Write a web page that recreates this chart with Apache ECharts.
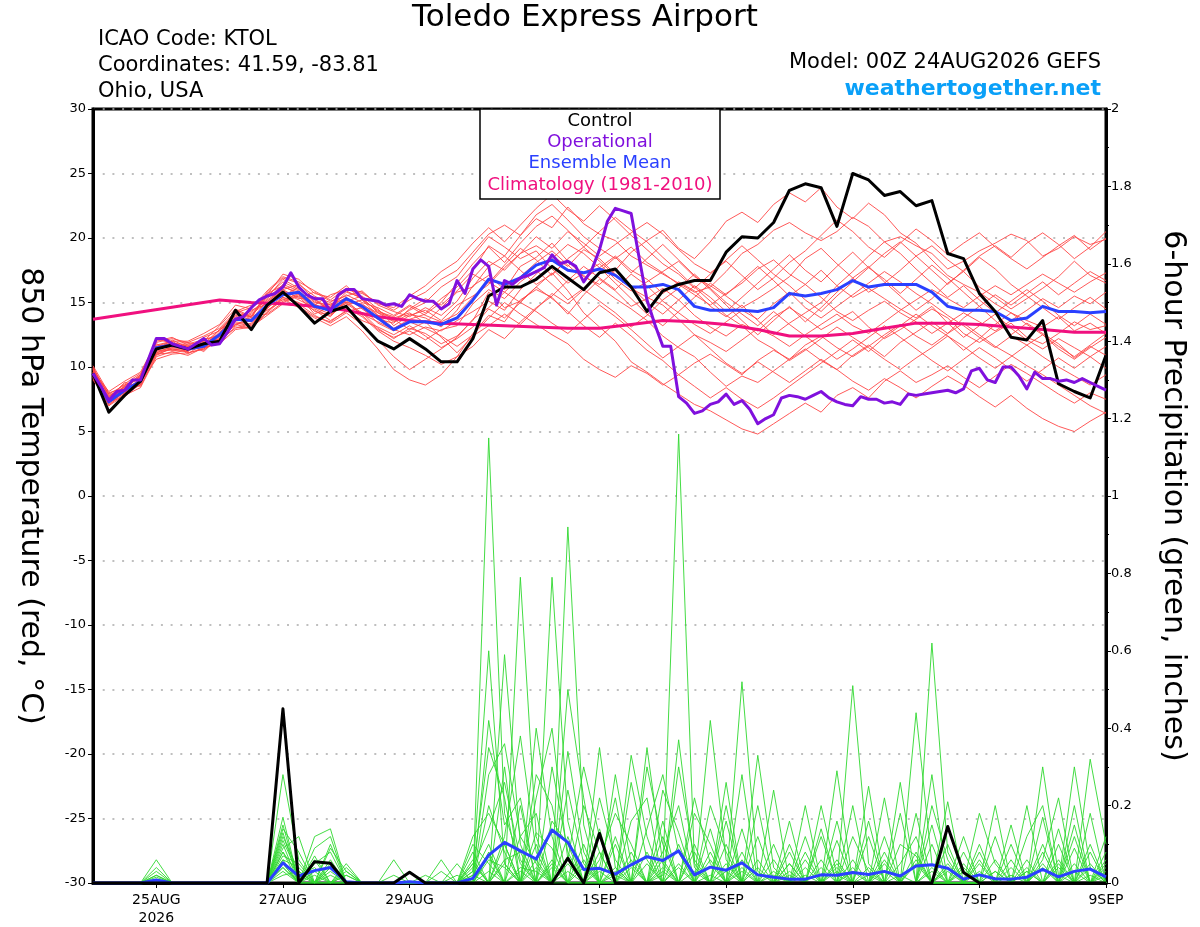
<!DOCTYPE html>
<html lang="en">
<head>
<meta charset="utf-8">
<title>Toledo Express Airport - GEFS plume</title>
<script src="https://cdn.jsdelivr.net/npm/echarts@6/dist/echarts.min.js"></script>
<style>
  html, body { margin: 0; padding: 0; background: #fff; }
  #plume { width: 1200px; height: 927px; }
</style>
</head>
<body>
<div id="plume"></div>
<script>
// x axis: forecast hour from 00Z 24AUG2026
var tickHours = [24, 72, 120, 192, 240, 288, 336, 384];
var tickLabels = ['25AUG\n2026', '27AUG', '29AUG', '1SEP', '3SEP', '5SEP', '7SEP', '9SEP'];

// 850 hPa temperature, 6-hourly (0..384h)
var controlTemp = [
  9.5, 6.5, 7.8, 8.9, 11.4, 11.7, 11.4, 11.8, 12.0, 14.4, 12.9, 14.8, 15.8,
  14.7, 13.4, 14.3, 14.7, 13.3, 12.0, 11.4, 12.2, 11.4, 10.4, 10.4, 12.2, 15.5,
  16.2, 16.2, 16.8, 17.8, 16.9, 16.0, 17.3, 17.6, 16.2, 14.3, 15.9, 16.4, 16.7,
  16.7, 18.9, 20.1, 20.0, 21.2, 23.7, 24.2, 23.9, 20.9, 25.0, 24.5, 23.3, 23.6,
  22.5, 22.9, 18.8, 18.4, 15.7, 14.3, 12.3, 12.1, 13.6, 8.7, 8.1, 7.6, 10.9
];
var meanTemp = [
  9.5, 7.3, 8.2, 8.9, 11.5, 11.7, 11.4, 11.6, 12.5, 13.7, 13.6, 14.8, 15.6,
  15.8, 14.7, 14.4, 15.3, 14.7, 13.8, 12.9, 13.5, 13.5, 13.3, 13.8, 15.2, 16.8,
  16.4, 16.9, 17.9, 18.3, 17.5, 17.3, 17.6, 17.1, 16.2, 16.2, 16.4, 16.0, 14.7,
  14.4, 14.4, 14.4, 14.3, 14.6, 15.7, 15.5, 15.7, 16.0, 16.7, 16.2, 16.4, 16.4,
  16.4, 15.8, 14.7, 14.4, 14.4, 14.3, 13.6, 13.8, 14.7, 14.3, 14.3, 14.2, 14.3
];
// operational run is 3-hourly
var operTemp = [
  9.5, 8.5, 7.4, 8.1, 8.2, 9.0, 9.0, 10.6, 12.2, 12.2, 11.8, 11.6, 11.4,
  11.8, 12.2, 11.7, 11.8, 12.7, 13.7, 13.9, 14.6, 15.2, 15.5, 15.7, 16.2, 17.3,
  16.2, 15.6, 15.3, 15.3, 14.3, 15.6, 16.0, 16.0, 15.3, 15.2, 15.1, 14.8, 14.9,
  14.7, 15.6, 15.3, 15.1, 15.1, 14.5, 14.9, 16.7, 15.7, 17.6, 18.3, 17.8, 14.8,
  16.7, 16.4, 16.9, 17.1, 17.4, 17.7, 18.7, 18.0, 18.2, 17.8, 16.6, 17.5, 19.1,
  21.3, 22.3, 22.1, 21.9, 18.5, 15.2, 13.3, 11.6, 11.6, 7.7, 7.2, 6.4, 6.6,
  7.1, 7.3, 7.9, 7.1, 7.4, 6.7, 5.6, 6.0, 6.3, 7.6, 7.8, 7.7, 7.5,
  7.8, 8.1, 7.6, 7.3, 7.1, 7.0, 7.7, 7.5, 7.5, 7.2, 7.3, 7.1, 7.9,
  7.8, 7.9, 8.0, 8.1, 8.2, 8.0, 8.3, 9.7, 9.9, 9.0, 8.8, 10.0, 10.0,
  9.3, 8.3, 9.6, 9.1, 9.1, 8.9, 9.0, 8.8, 9.1, 8.8, 8.5, 8.2
];
var climHours = [0, 48, 60, 72, 84, 96, 108, 120, 132, 144, 156, 168, 180, 192, 204,
  216, 228, 240, 252, 264, 276, 288, 300, 312, 324, 336, 348, 360, 372, 384];
var climTemp = [13.7, 15.2, 15.0, 14.9, 14.7, 14.4, 13.9, 13.6, 13.4, 13.3, 13.2, 13.1, 13.0, 13.0, 13.3,
  13.6, 13.5, 13.3, 12.9, 12.4, 12.4, 12.6, 13.0, 13.4, 13.4, 13.3, 13.1, 12.9, 12.7, 12.7];

// ensemble members, 6-hourly
var memberTemp = [
  [9.8,7.9,8.6,9.2,11.0,11.4,11.2,12.3,12.8,14.2,14.6,15.4,16.8,16.1,15.0,14.8,15.6,15.0,14.6,14.0,14.8,14.2,15.3,16.2,17.5,19.4,18.6,20.2,21.5,20.8,22.4,21.1,20.3,19.8,18.6,17.9,17.2,16.5,15.8,16.2,17.4,18.8,19.5,20.6,21.2,20.4,19.8,20.5,21.6,20.9,19.7,20.1,19.4,18.8,17.6,18.2,19.0,19.6,20.3,19.8,18.6,19.2,20.1,19.5,19.9],
  [9.2,7.0,7.8,8.4,10.8,11.2,10.9,11.5,12.0,13.1,13.0,14.2,15.3,14.6,13.8,13.2,13.9,12.8,11.4,9.8,9.0,8.6,9.4,10.8,12.6,14.0,13.5,15.2,16.0,15.4,14.1,15.6,16.8,15.9,14.7,15.3,16.1,15.2,14.0,13.1,12.4,13.3,12.8,13.9,14.6,13.8,12.9,13.6,14.3,13.1,12.2,12.9,13.7,14.5,13.8,12.6,11.9,12.7,13.4,12.3,11.8,12.6,13.5,12.9,13.2],
  [10.0,7.7,8.4,9.4,12.0,12.3,11.7,12.0,13.2,14.5,13.9,15.8,16.9,16.5,15.2,14.6,15.8,15.4,14.2,13.5,14.1,13.8,13.1,14.4,16.3,17.1,16.0,17.8,18.5,19.6,18.2,17.0,16.4,17.5,18.9,19.8,20.6,19.2,18.4,19.7,21.3,22.0,21.2,22.6,23.5,22.8,23.9,22.4,21.5,22.7,21.8,20.4,19.6,18.3,17.1,16.4,15.8,14.9,14.2,13.6,13.1,13.9,12.8,13.4,12.6],
  [9.4,7.2,8.0,8.6,11.6,11.8,11.6,11.3,12.2,13.3,13.6,14.4,15.1,15.6,14.3,14.0,15.0,14.2,13.0,12.2,13.0,12.6,11.8,12.4,13.6,15.8,14.6,15.1,16.2,17.3,15.9,14.2,13.1,12.0,10.4,9.6,8.7,7.9,7.1,6.6,5.9,5.2,4.8,5.6,6.4,7.2,6.5,7.8,8.4,7.6,8.9,9.7,8.8,9.4,10.1,9.2,8.4,9.3,10.2,9.5,8.7,7.9,7.2,8.0,7.5],
  [9.6,7.6,8.2,9.0,11.2,11.5,11.4,11.7,12.6,14.0,13.7,15.1,15.9,15.4,15.8,15.1,15.5,15.9,14.8,14.3,13.9,14.6,14.0,15.1,16.9,18.2,17.5,18.8,19.4,18.6,17.8,19.1,18.4,17.2,16.1,15.4,14.8,13.7,12.5,11.9,11.2,12.1,13.0,12.4,11.6,12.5,13.3,14.1,13.2,12.6,13.5,14.4,15.2,16.0,15.3,14.6,15.5,16.3,15.6,16.4,17.2,16.5,15.8,16.6,17.3],
  [9.7,8.1,8.9,9.6,11.9,12.2,11.9,12.4,13.0,14.3,14.8,15.6,17.2,16.8,15.7,15.4,16.3,15.2,14.0,13.6,14.4,15.0,16.2,17.0,18.6,20.1,19.3,18.4,19.0,17.6,16.5,17.3,18.0,16.8,15.9,16.6,17.4,18.2,17.0,16.3,15.5,14.6,15.3,16.1,17.0,18.4,19.2,18.0,16.9,15.8,16.5,17.5,18.6,19.4,18.3,17.4,16.2,15.4,14.5,15.3,16.1,17.0,18.2,17.1,16.5],
  [9.3,7.4,8.5,8.8,10.6,11.0,11.1,11.4,12.1,13.0,13.4,14.6,15.4,15.0,14.4,13.6,14.3,14.6,13.4,12.8,13.5,13.0,12.4,11.6,12.5,13.8,15.0,14.1,13.3,12.5,11.8,10.6,9.8,9.2,10.1,9.5,8.6,9.4,10.3,11.0,10.2,9.4,10.5,11.3,10.6,11.7,12.4,11.5,10.8,11.6,12.5,13.3,12.4,11.7,12.6,13.4,12.5,11.6,10.9,10.1,9.4,8.6,7.8,7.0,6.4],
  [9.9,7.8,8.1,9.1,11.5,11.9,11.0,11.9,12.4,13.6,14.1,15.0,16.2,15.8,14.8,15.6,16.0,15.7,15.0,14.4,15.2,15.8,16.8,17.5,18.9,20.3,21.0,20.2,21.8,22.6,21.4,20.1,19.2,18.4,19.3,18.1,17.3,16.4,15.6,14.8,15.7,16.5,17.6,18.3,17.2,16.4,15.4,14.3,13.6,14.4,15.1,14.2,13.5,12.6,13.4,14.2,13.5,12.8,13.6,14.4,15.3,14.6,15.5,14.9,15.8],
  [9.1,7.3,7.7,8.7,11.3,11.3,11.5,11.9,12.2,13.4,13.2,14.8,15.5,16.2,15.1,14.5,14.9,14.1,13.5,12.9,12.5,13.1,12.8,13.6,14.3,15.1,14.4,16.0,17.2,18.4,19.5,18.8,17.7,18.6,17.5,16.8,15.7,16.6,15.9,14.7,13.9,14.8,13.6,12.5,13.4,14.2,15.0,16.3,15.4,16.1,15.3,14.5,13.8,14.7,13.4,12.3,13.2,14.1,13.0,12.1,11.4,12.2,11.5,10.8,11.6],
  [9.5,7.5,8.3,9.3,11.7,12.0,11.3,11.6,12.7,13.8,13.5,14.5,15.8,15.2,14.6,14.9,15.3,14.8,14.2,13.8,14.2,13.4,14.6,15.8,16.2,17.8,18.6,17.5,16.4,17.2,18.3,17.1,16.2,15.3,14.5,13.6,12.4,11.5,10.8,9.6,8.5,9.3,8.8,9.7,10.6,11.4,10.5,9.8,10.9,11.7,10.8,11.9,12.7,13.5,12.6,13.8,14.7,13.6,12.5,13.4,12.6,11.8,10.7,11.6,10.9],
  [9.6,7.1,7.9,9.0,11.1,11.6,11.8,12.1,12.5,13.9,14.3,15.3,16.4,15.9,14.9,14.2,15.1,15.5,14.5,13.2,14.0,14.4,13.6,14.8,15.5,16.4,17.7,18.8,20.1,19.2,20.5,19.6,18.6,19.5,20.4,21.2,20.3,19.1,18.0,17.3,18.2,17.1,16.0,16.9,18.1,19.0,20.2,21.4,20.5,19.3,18.5,19.6,20.7,19.8,18.7,19.6,20.4,19.3,18.4,17.6,18.5,19.4,20.2,19.1,20.0],
  [9.4,7.7,8.7,9.5,11.4,11.7,11.6,11.8,12.9,14.1,13.9,15.5,16.6,16.0,15.3,14.3,14.6,13.9,12.8,12.0,11.5,10.9,10.2,10.8,11.6,12.9,12.2,13.5,14.6,15.5,16.7,17.8,16.9,16.0,17.2,16.3,15.1,14.2,13.3,12.6,13.5,14.4,13.7,14.9,15.8,14.6,13.8,14.7,15.6,16.5,17.4,16.6,15.7,14.9,14.0,13.2,12.3,11.5,12.4,11.7,10.8,10.0,9.3,8.6,9.4],
  [9.8,7.4,8.0,8.9,11.8,11.3,11.2,12.2,12.3,13.2,14.0,14.1,15.0,15.5,14.1,14.7,15.4,14.5,13.7,13.4,14.5,15.3,14.8,15.9,17.2,16.5,17.9,19.2,18.3,17.1,18.4,19.3,20.5,21.6,20.6,19.7,18.5,17.4,16.2,15.1,14.0,13.2,12.1,11.4,10.5,11.3,12.2,13.1,12.3,11.5,10.6,9.8,10.7,11.5,12.4,11.6,10.7,9.9,10.8,11.7,12.5,11.4,10.6,11.5,12.3],
  [9.3,7.6,8.8,8.5,10.9,11.5,11.7,11.2,12.4,13.5,13.3,14.7,15.2,15.7,14.5,13.9,15.2,14.0,12.9,12.3,12.8,12.1,12.9,13.2,14.9,16.0,15.3,16.6,17.5,16.4,15.2,16.1,17.4,18.5,17.3,18.4,19.5,18.3,17.1,16.0,14.8,13.6,12.5,13.6,14.7,13.5,14.6,15.8,16.9,17.8,16.6,15.5,14.4,15.3,16.5,17.4,18.5,17.6,16.4,15.5,14.6,13.7,14.6,15.4,14.5],
  [10.1,8.0,8.4,9.3,11.3,12.1,11.5,12.0,12.0,13.7,14.4,14.9,16.0,15.3,15.4,15.0,15.9,15.3,14.3,13.9,14.7,14.0,13.5,14.1,15.4,16.6,15.8,17.0,18.1,19.0,17.9,16.8,17.7,16.5,15.3,14.1,13.2,14.3,15.4,16.5,15.6,16.7,17.8,16.7,15.5,16.4,17.5,16.3,17.4,18.6,19.7,18.8,17.6,16.5,15.4,16.3,15.2,14.2,15.1,16.0,15.1,14.0,13.2,14.1,13.3],
  [9.0,7.2,8.1,8.8,11.0,11.1,11.3,11.5,11.8,12.9,13.1,14.0,14.9,14.7,13.9,13.5,14.4,13.6,13.1,12.5,13.2,12.4,11.5,12.2,13.1,14.5,13.8,15.0,14.3,13.4,12.6,13.7,14.8,13.9,12.9,11.8,10.7,11.6,12.5,11.4,10.3,9.5,10.4,9.6,8.8,9.7,10.6,9.8,8.9,8.2,9.1,8.4,7.6,8.5,9.3,8.6,7.7,6.9,7.8,6.8,6.0,5.4,5.0,5.8,6.5],
  [9.7,7.9,8.0,9.2,12.2,11.8,11.9,11.6,12.9,13.6,14.2,15.2,16.0,16.4,15.5,14.8,15.0,14.9,14.0,13.0,13.7,14.1,15.0,16.5,18.0,19.3,18.1,19.6,20.9,21.7,20.6,19.3,18.2,17.1,16.2,15.0,14.1,15.2,16.3,15.4,14.3,15.4,16.5,17.6,18.7,17.5,16.6,17.8,18.9,17.7,16.8,15.7,16.8,17.9,16.9,15.8,14.7,15.6,14.8,15.7,16.6,15.6,16.5,17.4,16.7],
  [9.5,7.3,8.6,9.1,11.4,11.9,11.1,11.4,12.6,14.4,13.8,15.7,16.3,15.6,14.6,14.1,14.8,15.2,14.4,13.7,12.9,13.5,12.3,11.1,12.4,13.2,14.1,13.3,14.5,15.7,14.9,16.0,15.1,14.2,13.1,14.0,15.2,16.1,17.2,16.1,15.0,14.1,13.2,14.3,13.3,12.4,11.5,10.6,11.4,12.3,13.2,12.3,11.4,10.5,9.7,10.6,11.5,10.7,9.8,8.9,9.8,10.7,9.9,10.8,9.9],
  [9.9,7.5,8.5,9.4,11.6,12.0,12.0,12.6,13.3,14.8,14.5,15.9,17.0,16.6,15.9,15.2,16.1,15.8,14.9,14.6,15.5,16.3,17.4,18.2,19.6,20.8,19.7,21.0,22.3,23.4,22.2,21.3,22.5,21.4,20.2,19.1,18.0,17.2,16.1,17.2,18.3,19.4,18.3,17.2,16.3,15.2,14.3,15.5,16.6,17.7,18.8,19.7,18.6,17.5,16.4,17.5,18.6,19.4,18.5,19.6,20.4,19.5,18.4,19.3,20.5],
  [9.2,7.0,8.2,8.6,11.1,11.4,11.4,11.7,12.2,13.3,13.0,14.3,15.4,14.9,14.0,13.4,14.2,13.3,12.1,10.8,9.8,10.6,11.4,12.3,13.7,14.6,15.8,15.0,16.2,15.3,14.3,13.2,12.3,13.4,12.4,11.3,10.5,9.4,8.5,7.6,8.4,7.5,6.8,7.6,8.5,9.4,10.3,11.2,12.1,11.2,12.3,13.2,14.1,13.2,12.4,11.3,12.2,13.3,14.2,13.3,12.5,11.6,10.8,11.7,12.6]
];

// 6-hour precipitation (inches), 6-hourly
var controlPrcp = [
  0, 0, 0, 0, 0, 0, 0, 0, 0, 0, 0, 0, 0.45,
  0, 0.055, 0.051, 0, 0, 0, 0, 0.028, 0, 0, 0, 0, 0,
  0, 0, 0, 0, 0.064, 0, 0.128, 0, 0, 0, 0, 0, 0,
  0, 0, 0, 0, 0, 0, 0, 0, 0, 0, 0, 0, 0,
  0, 0, 0.146, 0.027, 0, 0, 0, 0, 0, 0, 0, 0, 0
];
var meanPrcp = [
  0, 0, 0, 0, 0.008, 0, 0, 0, 0, 0, 0, 0, 0.052,
  0.018, 0.032, 0.040, 0.003, 0, 0, 0, 0.003, 0, 0, 0, 0.012, 0.072,
  0.105, 0.083, 0.062, 0.137, 0.105, 0.035, 0.038, 0.023, 0.047, 0.068, 0.058, 0.083, 0.021,
  0.041, 0.033, 0.052, 0.021, 0.015, 0.010, 0.010, 0.021, 0.020, 0.027, 0.022, 0.030, 0.018,
  0.044, 0.047, 0.038, 0.010, 0.021, 0.011, 0.010, 0.015, 0.035, 0.016, 0.030, 0.036, 0.016
];
var memberPrcp = [
  [0,0,0,0,0.06,0,0,0,0,0,0,0,0.12, 0.03,0,0.05,0,0,0,0,0,0,0,0,0,1.15, 0.18,0.05,0,0,0.34,0.08,0,0,0,0,0,0.05,0, 0.42,0.06,0,0,0,0.02,0,0,0,0.51,0.05,0,0, 0,0,0,0.03,0,0,0,0,0.30,0.02,0,0,0],
  [0,0,0,0,0.04,0,0,0,0,0,0,0,0.28, 0.06,0,0,0.04,0,0,0,0,0,0,0,0.06,0, 0.59,0.10,0,0.05,0,0,0.35,0.04,0,0,0.02,1.16,0.05, 0,0,0.52,0.03,0,0,0,0.20,0.02,0,0,0,0, 0,0.62,0.08,0,0,0,0,0.03,0,0,0.30,0.04,0],
  [0,0,0,0,0.03,0,0,0,0,0,0,0,0.17, 0,0.12,0.14,0,0,0,0.06,0,0,0,0.05,0,0.08, 0,0.79,0.12,0,0.92,0.15,0,0,0,0.35,0.05,0,0, 0,0.26,0,0.33,0.04,0,0,0,0,0,0.25,0,0, 0.44,0.05,0,0,0,0.20,0,0,0,0,0,0.32,0.10],
  [0,0,0,0,0.02,0,0,0,0,0,0,0,0.14, 0.08,0,0.10,0,0,0,0,0,0,0.06,0,0.03,0.35, 0.22,0,0,0.79,0.16,0,0,0,0.33,0.12,0,0,0.10, 0,0,0.28,0,0,0.16,0,0,0.29,0,0,0,0.26, 0,0,0.21,0,0.05,0,0,0,0.17,0,0.09,0,0],
  [0,0,0,0,0.01,0,0,0,0,0,0,0,0.10, 0,0.06,0,0.02,0,0,0,0.03,0,0,0,0.12,0.18, 0.10,0,0.28,0.20,0,0,0.06,0.18,0.10,0,0,0.37,0.04, 0,0,0,0,0,0,0.08,0,0,0,0,0.12,0, 0.18,0,0,0,0,0,0.06,0,0,0.14,0,0,0.06],
  [0,0,0,0,0,0,0,0,0,0,0,0,0.09, 0.12,0,0.06,0,0,0,0,0,0.02,0,0,0,0.42, 0.15,0.22,0,0,0.24,0.05,0,0.10,0,0,0.24,0.13,0, 0,0.16,0,0,0.10,0,0,0.06,0,0.12,0.03,0,0, 0,0.15,0,0.08,0,0,0,0.12,0.20,0,0,0.05,0],
  [0,0,0,0,0,0,0,0,0,0,0,0,0.08, 0,0.09,0.12,0,0,0,0.02,0,0,0,0,0.08,0, 0.30,0,0.13,0.09,0,0.20,0.08,0,0.16,0.22,0,0,0, 0.08,0,0.06,0,0,0.08,0,0,0.11,0,0,0,0.10, 0.07,0,0,0,0.18,0.05,0,0,0,0,0.15,0,0],
  [0,0,0,0,0.02,0,0,0,0,0,0,0,0.06, 0.04,0,0,0.03,0,0,0,0,0,0,0.02,0,0.28, 0.36,0.12,0.05,0,0.12,0,0.22,0.06,0,0,0.12,0,0.22, 0.05,0,0,0.12,0,0,0.20,0,0,0.06,0,0.22,0, 0,0,0.05,0,0,0,0.15,0,0,0.06,0,0,0.08],
  [0,0,0,0,0,0,0,0,0,0,0,0,0.15, 0,0.05,0.08,0,0,0,0,0,0,0,0,0.03,0.60, 0.05,0,0.22,0.40,0.06,0,0,0.28,0.05,0,0.08,0.20,0, 0,0.10,0,0,0.24,0,0,0.12,0,0,0.16,0,0, 0,0.28,0,0.12,0,0.06,0,0,0.10,0,0,0.18,0],
  [0,0,0,0,0,0,0,0,0,0,0,0,0.05, 0,0,0.04,0,0,0,0,0,0,0.03,0,0.05,0, 0.12,0.38,0.08,0,0.50,0.22,0,0,0,0.14,0.28,0.08,0, 0,0,0.14,0,0,0.05,0,0,0.16,0,0,0,0.05, 0.12,0,0,0,0.10,0,0,0.20,0,0,0.12,0,0.04],
  [0,0,0,0,0,0,0,0,0,0,0,0,0.11, 0.02,0.04,0,0,0,0,0,0,0,0,0,0.02,0.10, 0,0.20,0,0.16,0.10,0,0.14,0,0.26,0.06,0,0,0.18, 0.10,0,0,0.20,0,0,0.04,0,0,0.20,0,0,0, 0.08,0,0.10,0,0,0,0.10,0,0.06,0.22,0,0.08,0],
  [0,0,0,0,0,0,0,0,0,0,0,0,0.04, 0,0,0.09,0.03,0,0,0,0,0,0,0,0,0.20, 0.08,0,0.40,0.12,0,0.10,0,0.12,0,0.30,0.10,0,0, 0.20,0.08,0,0.06,0,0,0,0.14,0,0,0,0.08,0, 0,0.10,0,0,0.08,0,0,0.06,0,0,0.20,0,0.12],
  [0,0,0,0,0,0,0,0,0,0,0,0,0.07, 0.05,0,0.03,0,0,0,0,0,0,0,0,0.04,0.14, 0.26,0.06,0,0.30,0.08,0,0.04,0.22,0,0,0,0.30,0.06, 0,0.20,0,0,0,0.10,0,0,0.05,0,0.12,0,0.18, 0,0,0,0.04,0,0.12,0,0,0.08,0,0,0.10,0],
  [0,0,0,0,0,0,0,0,0,0,0,0,0.13, 0,0.07,0,0.05,0,0,0,0,0,0,0,0.10,0.05, 0,0.12,0.18,0,0.06,0.30,0.12,0,0.08,0,0.16,0,0, 0.14,0,0.08,0,0.06,0,0.12,0,0,0.04,0,0.06,0, 0,0.20,0.06,0,0,0,0.04,0,0,0.10,0,0,0.05],
  [0,0,0,0,0,0,0,0,0,0,0,0,0.03, 0,0.03,0,0,0,0,0,0,0,0,0,0,0.06, 0.04,0,0.10,0,0.03,0,0.08,0,0.04,0,0.06,0,0.03, 0,0.05,0,0,0,0.03,0,0,0.06,0,0,0.03,0, 0.05,0,0,0,0.03,0,0,0.04,0,0,0.03,0,0],
  [0,0,0,0,0,0,0,0,0,0,0,0,0.06, 0,0,0.02,0,0,0,0,0,0,0,0,0.02,0, 0.06,0.08,0,0.04,0,0.06,0,0.03,0,0.08,0,0.04,0, 0,0,0.03,0,0.02,0,0,0.04,0,0,0.02,0,0, 0,0.04,0,0,0,0.03,0,0,0,0.04,0,0,0.02],
  [0,0,0,0,0,0,0,0,0,0,0,0,0.02, 0.03,0,0,0,0,0,0,0,0,0,0,0,0.03, 0,0.04,0.03,0,0.05,0,0,0.04,0,0,0.03,0,0, 0.02,0,0,0.04,0,0,0.02,0,0,0.03,0,0,0.02, 0,0,0.03,0,0,0,0.02,0,0.04,0,0,0.02,0],
  [0,0,0,0,0.015,0,0,0,0,0,0,0,0.05, 0,0.02,0,0,0,0,0,0,0,0,0,0.05,0, 0.10,0,0.06,0,0,0.04,0,0,0.06,0,0,0.10,0, 0,0.03,0,0,0,0.05,0,0,0.03,0,0,0,0, 0.06,0,0,0.05,0,0,0,0.03,0,0,0.05,0,0],
  [0,0,0,0,0,0,0,0,0,0,0,0,0.04, 0,0,0,0.02,0,0,0,0,0,0,0,0,0.07, 0,0.03,0,0.06,0,0,0.03,0,0,0.05,0,0,0.08, 0,0,0.04,0,0,0,0.06,0,0,0,0.04,0,0, 0,0.03,0,0,0.06,0,0,0,0.05,0,0,0,0.03],
  [0,0,0,0,0,0,0,0,0,0,0,0,0.08, 0.02,0,0.04,0,0,0,0,0,0,0,0,0,0, 0.05,0,0.04,0,0.07,0,0,0.02,0,0,0.04,0,0, 0.06,0,0,0,0.03,0,0,0,0.04,0,0,0.05,0, 0,0,0.04,0,0,0.03,0,0,0,0.05,0,0.04,0]
];

var FONT = 'DejaVu Sans';

function atHours(vals, step) {
  return vals.map(function (v, i) { return [i * step, v]; });
}

function lineSeries(data, color, width, yIdx, z) {
  return {
    type: 'line',
    data: data,
    yAxisIndex: yIdx,
    showSymbol: false,
    symbol: 'none',
    silent: true,
    z: z,
    lineStyle: { color: color, width: width, join: 'round' }
  };
}

var series = [];
memberTemp.forEach(function (m) {
  series.push(lineSeries(atHours(m, 6), '#ff4646', 0.9, 0, 2));
});
memberPrcp.forEach(function (m) {
  series.push(lineSeries(atHours(m, 6), '#2fd82f', 0.9, 1, 2));
});
series.push(lineSeries(climHours.map(function (h, i) { return [h, climTemp[i]]; }), '#f0107f', 3, 0, 3));
series.push(lineSeries(atHours(meanTemp, 6), '#2a40ff', 3, 0, 4));
series.push(lineSeries(atHours(meanPrcp, 6), '#2a40ff', 3, 1, 4));
series.push(lineSeries(atHours(controlTemp, 6), '#000000', 3, 0, 5));
series.push(lineSeries(atHours(controlPrcp, 6), '#000000', 3, 1, 5));
series.push(lineSeries(atHours(operTemp, 3), '#8010dd', 3, 0, 6));

var chart = echarts.init(document.getElementById('plume'));

chart.setOption({
  animation: false,
  backgroundColor: '#fff',
  textStyle: { fontFamily: FONT },
  grid: {
    left: 93, right: 94, top: 109, bottom: 44,
    show: true, borderColor: '#000', borderWidth: 3
  },
  xAxis: {
    type: 'value', min: 0, max: 384,
    axisLine: { onZero: false, lineStyle: { color: '#000', width: 3 } },
    axisTick: { show: true, customValues: tickHours, length: 5, lineStyle: { color: '#000' } },
    axisLabel: {
      customValues: tickHours,
      formatter: function (v) { return tickLabels[tickHours.indexOf(v)] || ''; },
      color: '#000', fontSize: 14, fontFamily: FONT, margin: 8, lineHeight: 18
    },
    splitLine: { show: false }
  },
  yAxis: [{
    type: 'value', min: -30, max: 30, interval: 5, position: 'left',
    name: '850 hPa Temperature (red, °C)',
    nameLocation: 'middle', nameRotate: -90, nameGap: 48,
    nameTextStyle: { color: '#000', fontSize: 30, fontFamily: FONT },
    axisLine: { show: true, lineStyle: { color: '#000', width: 3 } },
    axisTick: { show: true, length: 5, lineStyle: { color: '#000' } },
    axisLabel: { color: '#000', fontSize: 13, fontFamily: FONT, margin: 7 },
    splitLine: { show: true, lineStyle: { color: '#aaa', width: 1.5, type: [2, 7.7] } }
  }, {
    type: 'value', min: 0, max: 2, interval: 0.2, position: 'right',
    name: '6-hour Precipitation (green, inches)',
    nameLocation: 'middle', nameRotate: -90, nameGap: 52,
    nameTextStyle: { color: '#000', fontSize: 30, fontFamily: FONT },
    axisLine: { show: true, lineStyle: { color: '#000', width: 3 } },
    axisTick: { show: true, length: 5, lineStyle: { color: '#000' } },
    minorTick: { show: true, splitNumber: 2, length: 3, lineStyle: { color: '#000' } },
    axisLabel: { color: '#000', fontSize: 13, fontFamily: FONT, margin: 5 },
    splitLine: { show: false }
  }],
  graphic: [
    { type: 'text', x: 585, y: 18, z: 100,
      style: { text: 'Toledo Express Airport', fill: '#000', font: '31px "DejaVu Sans"', align: 'center', verticalAlign: 'middle' } },
    { type: 'text', x: 98, y: 40, z: 100,
      style: { text: 'ICAO Code: KTOL', fill: '#000', font: '21px "DejaVu Sans"', align: 'left', verticalAlign: 'middle' } },
    { type: 'text', x: 98, y: 66, z: 100,
      style: { text: 'Coordinates: 41.59, -83.81', fill: '#000', font: '21px "DejaVu Sans"', align: 'left', verticalAlign: 'middle' } },
    { type: 'text', x: 98, y: 92, z: 100,
      style: { text: 'Ohio, USA', fill: '#000', font: '21px "DejaVu Sans"', align: 'left', verticalAlign: 'middle' } },
    { type: 'text', x: 1101, y: 63, z: 100,
      style: { text: 'Model: 00Z 24AUG2026 GEFS', fill: '#000', font: '21px "DejaVu Sans"', align: 'right', verticalAlign: 'middle' } },
    { type: 'text', x: 1101, y: 89, z: 100,
      style: { text: 'weathertogether.net', fill: '#0aa0f8', font: 'bold 22px "DejaVu Sans"', align: 'right', verticalAlign: 'middle' } },
    // legend box
    { type: 'rect', z: 100,
      shape: { x: 480, y: 109, width: 240, height: 90 },
      style: { fill: '#fff', stroke: '#000', lineWidth: 1.5 } },
    { type: 'text', x: 600, y: 121, z: 101,
      style: { text: 'Control', fill: '#000', font: '18px "DejaVu Sans"', align: 'center', verticalAlign: 'middle' } },
    { type: 'text', x: 600, y: 142, z: 101,
      style: { text: 'Operational', fill: '#8010dd', font: '18px "DejaVu Sans"', align: 'center', verticalAlign: 'middle' } },
    { type: 'text', x: 600, y: 163, z: 101,
      style: { text: 'Ensemble Mean', fill: '#2a40ff', font: '18px "DejaVu Sans"', align: 'center', verticalAlign: 'middle' } },
    { type: 'text', x: 600, y: 185, z: 101,
      style: { text: 'Climatology (1981-2010)', fill: '#f0107f', font: '18px "DejaVu Sans"', align: 'center', verticalAlign: 'middle' } }
  ],
  series: series
});

window.onresize = function () {
  chart.resize();
};
</script>
</body>
</html>
